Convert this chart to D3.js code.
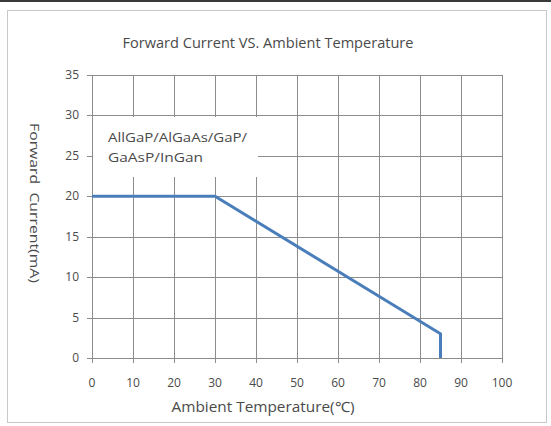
<!DOCTYPE html>
<html>
<head>
<meta charset="utf-8">
<script src="https://cdn.jsdelivr.net/npm/d3@7"></script>
<style>
  body { margin: 0; background: #fff; }
  svg { display: block; }
</style>
</head>
<body>
<div id="chart"></div>
<script>
// data
var temps    = [0, 30, 85, 85];
var currents = [20, 20, 3, 0];
var x_ticks  = [0, 10, 20, 30, 40, 50, 60, 70, 80, 90, 100];
var y_ticks  = [0, 5, 10, 15, 20, 25, 30, 35];
var note_lines = ['AllGaP/AlGaAs/GaP/', 'GaAsP/InGan'];

var W = 551, H = 426;
var margin = {top: 75, right: 49, bottom: 68, left: 92};
var font = '"Open Sans", Lato, sans-serif';
var text_color = '#4a4a4a';
var grid_color = '#8c8c8c';

var svg = d3.select('#chart').append('svg').attr('width', W).attr('height', H);

// outer frame
svg.append('rect').attr('x', 0).attr('y', 0).attr('width', W).attr('height', 2).attr('fill', '#3a3a3a');
svg.append('rect').attr('x', 7.5).attr('y', 10.5).attr('width', 539).attr('height', 412)
   .attr('fill', 'none').attr('stroke', '#c8c8c8');

var x = d3.scaleLinear().domain([0, 100]).range([margin.left, W - margin.right]);
var y = d3.scaleLinear().domain([0, 35]).range([H - margin.bottom, margin.top]);

// grid
var g = svg.append('g');
g.selectAll('.vgrid').data(x_ticks).enter().append('line')
  .attr('x1', d => Math.round(x(d)) + 0.5).attr('x2', d => Math.round(x(d)) + 0.5)
  .attr('y1', y(35)).attr('y2', y(0) + 5)
  .attr('stroke', grid_color).attr('stroke-width', 1);
g.selectAll('.hgrid').data(y_ticks).enter().append('line')
  .attr('y1', d => Math.round(y(d)) + 0.5).attr('y2', d => Math.round(y(d)) + 0.5)
  .attr('x1', x(0) - 5).attr('x2', x(100))
  .attr('stroke', grid_color).attr('stroke-width', 1);

// tick labels
g.selectAll('.xlab').data(x_ticks).enter().append('text')
  .attr('x', d => x(d)).attr('y', y(0) + 29)
  .attr('text-anchor', 'middle').attr('font-family', font).attr('font-size', 12)
  .attr('fill', text_color).text(d => d);
g.selectAll('.ylab').data(y_ticks).enter().append('text')
  .attr('x', x(0) - 13).attr('y', d => y(d) + 4)
  .attr('text-anchor', 'end').attr('font-family', font).attr('font-size', 12)
  .attr('fill', text_color).text(d => d);

// note box (white, hides grid)
svg.append('rect').attr('x', 93).attr('y', 117).attr('width', 165).attr('height', 60).attr('fill', '#fff');
svg.append('g').selectAll('text').data(note_lines).enter().append('text')
  .attr('x', 108).attr('y', (d, i) => 142 + i * 20)
  .attr('font-family', font).attr('font-size', 13).attr('fill', text_color)
  .attr('textLength', (d, i) => i == 0 ? 139 : 95).attr('lengthAdjust', 'spacingAndGlyphs')
  .text(d => d);

// curve
var line = d3.line().x(d => x(d[0])).y(d => y(d[1]));
svg.append('path')
  .datum(temps.map((t, i) => [t, currents[i]]))
  .attr('d', line).attr('fill', 'none')
  .attr('stroke', '#4a7ebb').attr('stroke-width', 3);

// titles
svg.append('text').attr('x', 268).attr('y', 48).attr('text-anchor', 'middle')
  .attr('font-family', font).attr('font-size', 14).attr('fill', text_color)
  .attr('textLength', 291).attr('lengthAdjust', 'spacingAndGlyphs')
  .text('Forward Current VS. Ambient Temperature');
svg.append('text').attr('x', 263).attr('y', 412).attr('text-anchor', 'middle')
  .attr('font-family', font).attr('font-size', 14).attr('fill', text_color)
  .attr('textLength', 183).attr('lengthAdjust', 'spacingAndGlyphs')
  .text('Ambient Temperature(\u2103)');
svg.append('text').attr('transform', 'translate(30,203) rotate(90)')
  .attr('text-anchor', 'middle').attr('font-family', font).attr('font-size', 13)
  .attr('fill', text_color).attr('xml:space', 'preserve')
  .attr('textLength', 160).attr('lengthAdjust', 'spacingAndGlyphs')
  .text('Forward  Current(mA)');
</script>
</body>
</html>
